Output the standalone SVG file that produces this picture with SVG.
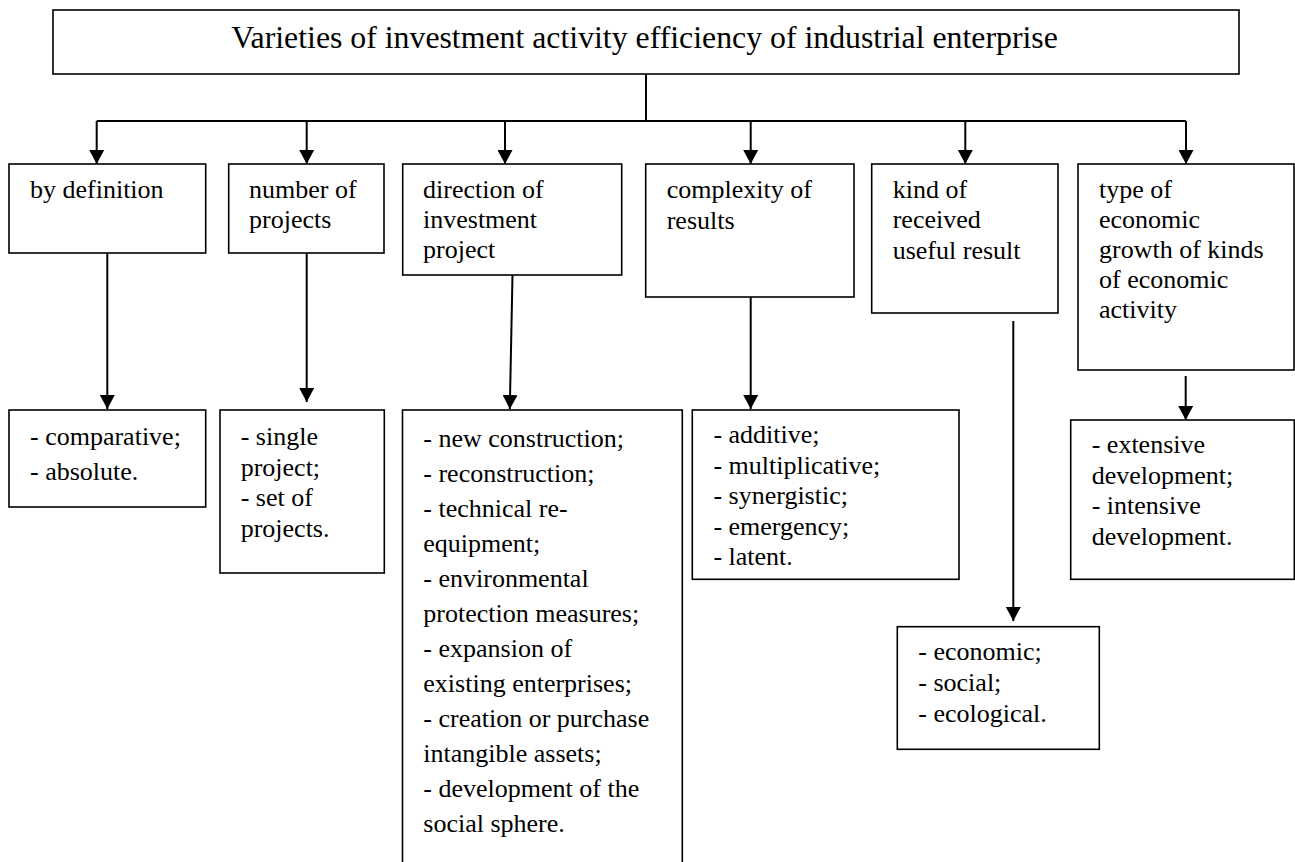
<svg xmlns="http://www.w3.org/2000/svg" width="1295" height="862" viewBox="0 0 1295 862">
<style>
.box{fill:#fff;stroke:#000;stroke-width:1.6}
.t{font-family:"Liberation Serif","Times New Roman",serif;font-size:26px;fill:#000}
.title{font-family:"Liberation Serif","Times New Roman",serif;font-size:31.8px;fill:#000}
.ln{fill:none;stroke:#000;stroke-width:2}
.ar{fill:none;stroke:#000;stroke-width:2;marker-end:url(#ah)}
</style>
<defs>
<marker id="ah" markerUnits="userSpaceOnUse" markerWidth="14" markerHeight="15" viewBox="0 0 14 15" refX="14" refY="7.5" orient="auto">
<path d="M0,0 L14,7.5 L0,15 z" fill="#000"/>
</marker>
</defs>
<rect width="1295" height="862" fill="#fff"/>

<g id="connectors">
<path class="ln" d="M646,74 V121 M96.7,121 H1186"/>
<path class="ar" d="M96.7,121 V164"/>
<path class="ar" d="M306.7,121 V164"/>
<path class="ar" d="M505,121 V164"/>
<path class="ar" d="M750.7,121 V164"/>
<path class="ar" d="M965.3,121 V164"/>
<path class="ar" d="M1186,121 V164"/>
<path class="ar" d="M107.3,253 V409"/>
<path class="ar" d="M306.7,253 V402"/>
<path class="ar" d="M512.5,275 L509.8,409"/>
<path class="ar" d="M750.7,297 V409"/>
<path class="ar" d="M1013.3,321 V621"/>
<path class="ar" d="M1185.7,376 V420"/>
</g>

<g id="title" font-family="Liberation Serif, Times New Roman, serif">
<rect class="box" x="53" y="10" width="1186" height="64"/>
<text class="title" x="644.5" y="48" text-anchor="middle">Varieties of investment activity efficiency of industrial enterprise</text>
</g>

<g id="n1" font-family="Liberation Serif, Times New Roman, serif">
<rect class="box" x="9" y="164" width="196.7" height="89"/>
<text class="t" x="30" y="198">by definition</text>
</g>
<g id="n2" font-family="Liberation Serif, Times New Roman, serif">
<rect class="box" x="228.7" y="164" width="155.3" height="89"/>
<text class="t" x="249" y="198">number of</text>
<text class="t" x="249" y="228">projects</text>
</g>
<g id="n3" font-family="Liberation Serif, Times New Roman, serif">
<rect class="box" x="402.7" y="164" width="219" height="111"/>
<text class="t" x="423" y="198">direction of</text>
<text class="t" x="423" y="228">investment</text>
<text class="t" x="423" y="258">project</text>
</g>
<g id="n4" font-family="Liberation Serif, Times New Roman, serif">
<rect class="box" x="645.7" y="164" width="208.3" height="133"/>
<text class="t" x="666.7" y="198">complexity of</text>
<text class="t" x="666.7" y="229">results</text>
</g>
<g id="n5" font-family="Liberation Serif, Times New Roman, serif">
<rect class="box" x="871.7" y="164" width="186.3" height="149"/>
<text class="t" x="892.7" y="198">kind of</text>
<text class="t" x="892.7" y="228">received</text>
<text class="t" x="892.7" y="259">useful result</text>
</g>
<g id="n6" font-family="Liberation Serif, Times New Roman, serif">
<rect class="box" x="1078" y="164" width="216" height="206"/>
<text class="t" x="1099" y="198">type of</text>
<text class="t" x="1099" y="228">economic</text>
<text class="t" x="1099" y="258">growth of kinds</text>
<text class="t" x="1099" y="288">of economic</text>
<text class="t" x="1099" y="318">activity</text>
</g>

<g id="l1" font-family="Liberation Serif, Times New Roman, serif">
<rect class="box" x="9" y="410" width="196.7" height="97"/>
<text class="t" x="30" y="445">- comparative;</text>
<text class="t" x="30" y="480">- absolute.</text>
</g>
<g id="l2" font-family="Liberation Serif, Times New Roman, serif">
<rect class="box" x="220" y="410" width="164.3" height="163"/>
<text class="t" x="240.7" y="445">- single</text>
<text class="t" x="240.7" y="475.5">project;</text>
<text class="t" x="240.7" y="506">- set of</text>
<text class="t" x="240.7" y="537">projects.</text>
</g>
<g id="l3" font-family="Liberation Serif, Times New Roman, serif">
<rect class="box" x="402.5" y="410" width="279.8" height="480"/>
<text class="t" x="423.3" y="446.7">- new construction;</text>
<text class="t" x="423.3" y="481.7">- reconstruction;</text>
<text class="t" x="423.3" y="516.7">- technical re-</text>
<text class="t" x="423.3" y="551.7">equipment;</text>
<text class="t" x="423.3" y="586.7">- environmental</text>
<text class="t" x="423.3" y="621.7">protection measures;</text>
<text class="t" x="423.3" y="656.7">- expansion of</text>
<text class="t" x="423.3" y="691.7">existing enterprises;</text>
<text class="t" x="423.3" y="726.7">- creation or purchase</text>
<text class="t" x="423.3" y="761.7">intangible assets;</text>
<text class="t" x="423.3" y="796.7">- development of the</text>
<text class="t" x="423.3" y="831.7">social sphere.</text>
</g>
<g id="l4" font-family="Liberation Serif, Times New Roman, serif">
<rect class="box" x="692.3" y="410" width="266.7" height="169.3"/>
<text class="t" x="713.4" y="443">- additive;</text>
<text class="t" x="713.4" y="474">- multiplicative;</text>
<text class="t" x="713.4" y="504">- synergistic;</text>
<text class="t" x="713.4" y="535">- emergency;</text>
<text class="t" x="713.4" y="565">- latent.</text>
</g>
<g id="l5" font-family="Liberation Serif, Times New Roman, serif">
<rect class="box" x="897.3" y="626.7" width="202" height="122.6"/>
<text class="t" x="918.3" y="660">- economic;</text>
<text class="t" x="918.3" y="691">- social;</text>
<text class="t" x="918.3" y="722">- ecological.</text>
</g>
<g id="l6" font-family="Liberation Serif, Times New Roman, serif">
<rect class="box" x="1070.7" y="420" width="223.6" height="159.3"/>
<text class="t" x="1091.7" y="453">- extensive</text>
<text class="t" x="1091.7" y="484">development;</text>
<text class="t" x="1091.7" y="514">- intensive</text>
<text class="t" x="1091.7" y="545">development.</text>
</g>
</svg>
